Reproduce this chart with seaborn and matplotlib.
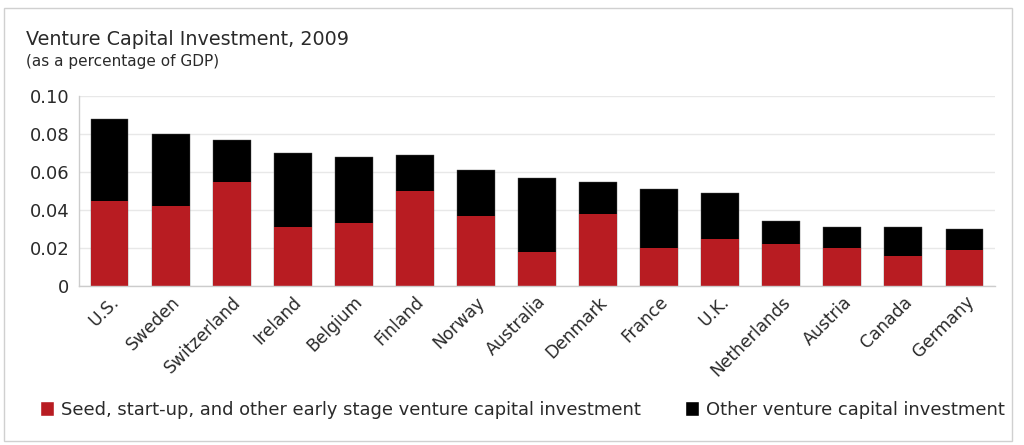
import pandas as pd
import numpy as np
import matplotlib.pyplot as plt
import seaborn as sns
from matplotlib.patches import Patch, Rectangle

countries = ['U.S.', 'Sweden', 'Switzerland', 'Ireland', 'Belgium', 'Finland', 'Norway',
             'Australia', 'Denmark', 'France', 'U.K.', 'Netherlands', 'Austria', 'Canada', 'Germany']
early_stage = [0.045, 0.042, 0.055, 0.031, 0.033, 0.050, 0.037,
               0.018, 0.038, 0.020, 0.025, 0.022, 0.020, 0.016, 0.019]
total = [0.088, 0.080, 0.077, 0.070, 0.068, 0.069, 0.061,
         0.057, 0.055, 0.051, 0.049, 0.034, 0.031, 0.031, 0.030]
yticks = [0, 0.02, 0.04, 0.06, 0.08, 0.10]
ytick_labels = ['0', '0.02', '0.04', '0.06', '0.08', '0.10']

red = '#b81c22'
txt = '#2a2a2a'
df = pd.DataFrame({'country': countries, 'early': early_stage, 'total': total})

sns.set_style('white')
plt.rcParams['font.family'] = ['DejaVu Sans']

fig = plt.figure(figsize=(10.24, 4.45), dpi=100)
ax = fig.add_axes([79 / 1024, 1 - 286 / 445, (995 - 79) / 1024, (286 - 96) / 445])

# black = total (other on top), red = early stage drawn over it
sns.barplot(data=df, x='country', y='total', color='black', width=0.62,
            saturation=1, ax=ax, edgecolor='#555555', linewidth=0.3)
sns.barplot(data=df, x='country', y='early', color=red, width=0.62,
            saturation=1, ax=ax, linewidth=0)

ax.set_xlim(-0.5, len(countries) - 0.5)
ax.set_ylim(0, 0.10)
ax.set_yticks(yticks)
ax.set_yticklabels(ytick_labels)
ax.set_xlabel('')
ax.set_ylabel('')
ax.yaxis.grid(True, color='#e8e8e8', linewidth=1)
ax.set_axisbelow(True)
for s in ['top', 'right']:
    ax.spines[s].set_visible(False)
for s in ['left', 'bottom']:
    ax.spines[s].set_color('#cccccc')
    ax.spines[s].set_linewidth(1)
ax.tick_params(axis='y', length=4, color='#cccccc', labelsize=13, labelcolor=txt, pad=3)
ax.tick_params(axis='x', length=0, labelsize=12.3, labelcolor=txt, pad=5)
plt.setp(ax.get_xticklabels(), rotation=45, ha='right', rotation_mode='anchor')

fig.text(26 / 1024, 1 - 45 / 445, 'Venture Capital Investment, 2009', fontsize=13.8, color=txt)
fig.text(26 / 1024, 1 - 66 / 445, '(as a percentage of GDP)', fontsize=11, color=txt)

handles = [Patch(facecolor=red, label='Seed, start-up, and other early stage venture capital investment'),
           Patch(facecolor='black', label='Other venture capital investment')]
fig.legend(handles=handles, loc='center left', bbox_to_anchor=(24 / 1024, 1 - 410 / 445),
           ncol=2, frameon=False, fontsize=12.9, handlelength=0.75, handleheight=0.9,
           handletextpad=0.4, columnspacing=2.5, labelcolor=txt)

fig.patches.append(Rectangle((4 / 1024, 1 - 441 / 445), 1008 / 1024, 433 / 445,
                             transform=fig.transFigure, fill=False, edgecolor='#d0d0d0', linewidth=1))

plt.savefig('out.png', dpi=100)
